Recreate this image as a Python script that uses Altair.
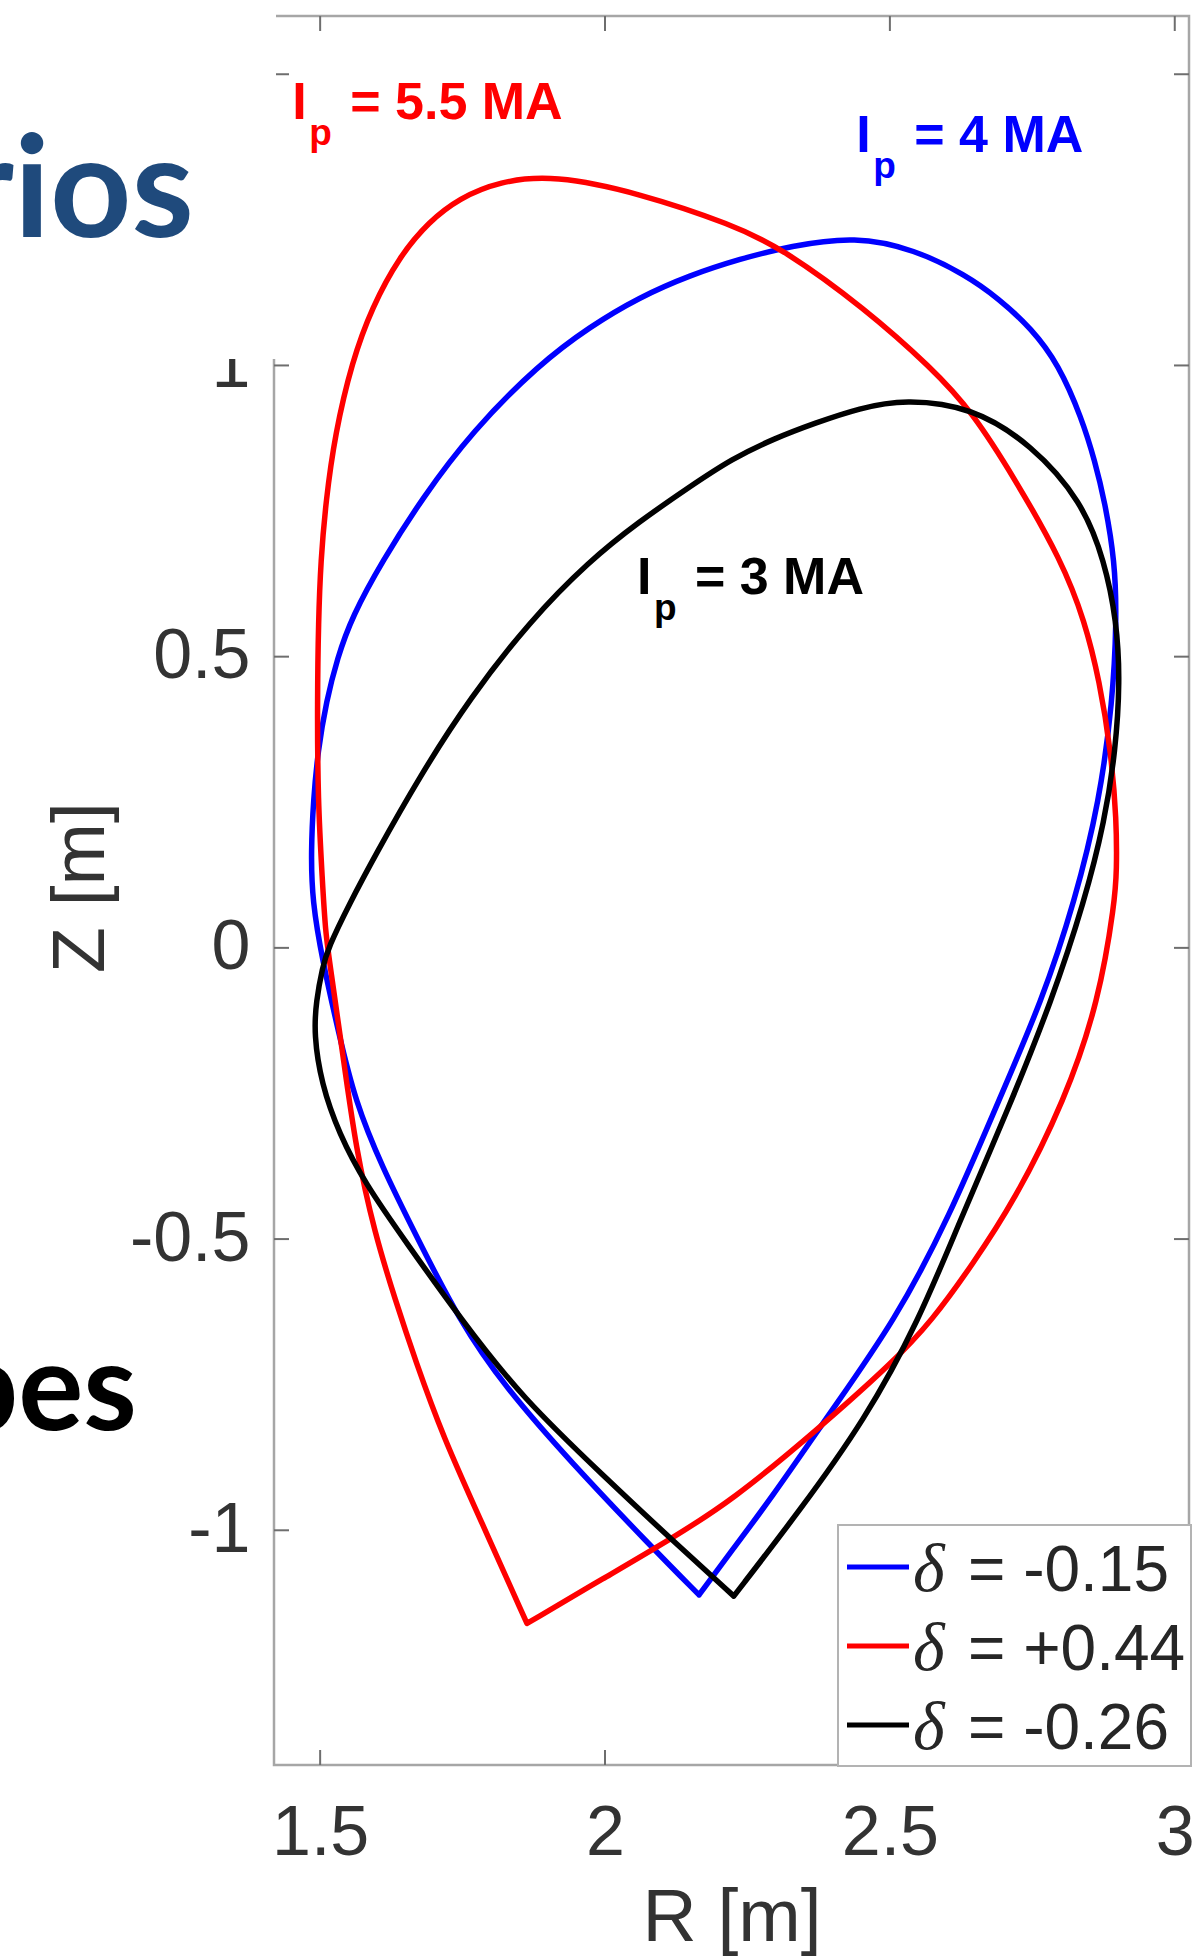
import altair as alt
import pandas as pd

# ---------------- data ----------------
delta_values = ["-0.15", "+0.44", "-0.26"]
ip_texts = ["= 4 MA", "= 5.5 MA", "= 3 MA"]
line_colors = ["#0000FF", "#FF0000", "#000000"]

# anchors of the I_p labels (R, Z of the left foot of "I")
label_R = [2.441, 1.451, 2.056]
label_Z = [1.367, 1.424, 0.607]

x_ticks = [1.5, 2, 2.5, 3]
y_ticks = [-1, -0.5, 0, 0.5, 1, 1.5]

# each boundary starts and ends at its X-point
blue_R = [2.165, 2.079, 1.942, 1.825, 1.744, 1.667, 1.609, 1.561, 1.533, 1.504,
          1.486, 1.484, 1.488, 1.496, 1.511, 1.530, 1.556, 1.609, 1.679, 1.767,
          1.884, 1.974, 2.060, 2.149, 2.237, 2.325, 2.439, 2.544, 2.632, 2.691,
          2.749, 2.796, 2.837, 2.860, 2.877, 2.895, 2.898, 2.891, 2.868, 2.825,
          2.767, 2.691, 2.604, 2.509, 2.398, 2.289, 2.216, 2.165]
blue_Z = [-1.111, -1.026, -0.885, -0.755, -0.640, -0.491, -0.377, -0.262, -0.148, -0.022,
          0.081, 0.166, 0.252, 0.338, 0.424, 0.497, 0.569, 0.664, 0.772, 0.887,
          1.002, 1.067, 1.117, 1.155, 1.183, 1.205, 1.222, 1.199, 1.156, 1.115,
          1.063, 1.002, 0.909, 0.835, 0.767, 0.664, 0.561, 0.424, 0.252, 0.081,
          -0.091, -0.262, -0.463, -0.640, -0.794, -0.949, -1.043, -1.111]

red_R = [1.863, 1.782, 1.716, 1.667, 1.632, 1.596, 1.563, 1.539, 1.518, 1.509,
         1.504, 1.496, 1.495, 1.497, 1.501, 1.510, 1.526, 1.556, 1.591, 1.639,
         1.691, 1.744, 1.814, 1.910, 2.060, 2.223, 2.311, 2.456, 2.574, 2.644,
         2.719, 2.802, 2.842, 2.868, 2.888, 2.898, 2.898, 2.895, 2.867, 2.807,
         2.719, 2.644, 2.574, 2.505, 2.372, 2.223, 2.112, 2.000, 1.863]
red_Z = [-1.160, -0.983, -0.840, -0.708, -0.605, -0.491, -0.348, -0.177, -0.034, 0.029,
         0.115, 0.252, 0.424, 0.561, 0.664, 0.767, 0.882, 1.007, 1.100, 1.187,
         1.247, 1.287, 1.316, 1.327, 1.296, 1.242, 1.201, 1.098, 0.995, 0.921,
         0.806, 0.664, 0.561, 0.458, 0.338, 0.218, 0.132, 0.081, -0.091, -0.262,
         -0.434, -0.545, -0.640, -0.712, -0.828, -0.949, -1.017, -1.081, -1.160]

black_R = [2.226, 2.118, 2.000, 1.854, 1.749, 1.649, 1.579, 1.533, 1.502, 1.489,
           1.493, 1.504, 1.514, 1.551, 1.596, 1.675, 1.763, 1.868, 1.972, 2.060,
           2.149, 2.223, 2.298, 2.368, 2.447, 2.526, 2.644, 2.749, 2.837, 2.877,
           2.898, 2.904, 2.896, 2.877, 2.842, 2.784, 2.709, 2.621, 2.551, 2.456,
           2.342, 2.226]
black_Z = [-1.113, -1.017, -0.909, -0.772, -0.640, -0.503, -0.405, -0.319, -0.233, -0.148,
           -0.091, -0.034, 0.000, 0.075, 0.158, 0.295, 0.429, 0.561, 0.664, 0.732,
           0.792, 0.840, 0.875, 0.901, 0.927, 0.942, 0.929, 0.864, 0.767, 0.664,
           0.561, 0.458, 0.338, 0.218, 0.081, -0.091, -0.274, -0.473, -0.640, -0.811,
           -0.966, -1.113]

# ---------------- layout ----------------
W, H = 915, 1749
R_DOM = [1.419, 3.025]
Z_DOM = [-1.403, 1.6]
TXT = "#333333"
TICK = "#6e6e6e"
FRAME = "#a6a6a6"

series = ["d" + str(i) for i in range(3)]
rows = []
for s, Rs, Zs in zip(series, [blue_R, red_R, black_R], [blue_Z, red_Z, black_Z]):
    for i, (r, z) in enumerate(zip(Rs, Zs)):
        rows.append({"series": s, "i": i, "R": r, "Z": z})
df = pd.DataFrame(rows)

xs = alt.Scale(domain=R_DOM, nice=False, zero=False)
ys = alt.Scale(domain=Z_DOM, nice=False, zero=False)

label_expr = "replace(format(datum.value, '~g'), '\u2212', '-')"
x_axis = alt.Axis(values=x_ticks, ticks=False, domain=False, grid=False,
                  labelExpr=label_expr, labelFont="Liberation Sans", labelFontSize=70,
                  labelColor=TXT, labelPadding=34, labelFlush=False,
                  title="R [m]", titleFont="Liberation Sans", titleFontSize=75,
                  titleFontWeight="normal", titleColor=TXT, titleY=175,
                  titleBaseline="alphabetic")
y_axis = alt.Axis(values=y_ticks, ticks=False, domain=False, grid=False,
                  labelExpr=label_expr, labelFont="Liberation Sans", labelFontSize=70,
                  labelColor=TXT, labelPadding=24, labelFlush=False,
                  title="Z [m]", titleFont="Liberation Sans", titleFontSize=75,
                  titleFontWeight="normal", titleColor=TXT, titleX=-171, titleY=871,
                  titleBaseline="alphabetic", titleAlign="center")
X = alt.X("R:Q", scale=xs, axis=x_axis)
Y = alt.Y("Z:Q", scale=ys, axis=y_axis)

curves = alt.Chart(df).mark_line(
    strokeWidth=5.5, interpolate="basis", strokeCap="round", strokeJoin="round"
).encode(
    x=X, y=Y,
    color=alt.Color("series:N", scale=alt.Scale(domain=series, range=line_colors), legend=None),
    order=alt.Order("i:Q"),
)

# inward ticks (MATLAB box style)
xt = pd.DataFrame({"R": x_ticks})
yt = pd.DataFrame({"Z": y_ticks})
tick_bottom = alt.Chart(xt).mark_rule(color=TICK, strokeWidth=2).encode(
    x=X, y=alt.value(H), y2=alt.value(H - 15))
tick_top = alt.Chart(xt).mark_rule(color=TICK, strokeWidth=2).encode(
    x=X, y=alt.value(0), y2=alt.value(15))
tick_left = alt.Chart(yt).mark_rule(color=TICK, strokeWidth=2).encode(
    y=Y, x=alt.value(0), x2=alt.value(15))
tick_right = alt.Chart(yt).mark_rule(color=TICK, strokeWidth=2).encode(
    y=Y, x=alt.value(W), x2=alt.value(W - 15))

# I_p annotations
ann = pd.DataFrame({"R": label_R, "Z": label_Z, "t": ip_texts, "c": line_colors})
ann_font = dict(font="Liberation Sans", fontWeight="bold", align="left", baseline="alphabetic")
ann_I = alt.Chart(ann).mark_text(fontSize=52, **ann_font).encode(
    x=X, y=Y, text=alt.value("I"), color=alt.Color("c:N", scale=None))
ann_p = alt.Chart(ann).mark_text(fontSize=37, dx=17, dy=26, **ann_font).encode(
    x=X, y=Y, text=alt.value("p"), color=alt.Color("c:N", scale=None))
ann_t = alt.Chart(ann).mark_text(fontSize=52, dx=58, **ann_font).encode(
    x=X, y=Y, text="t:N", color=alt.Color("c:N", scale=None))

one = pd.DataFrame({"a": [0]})

# white slide overlay hiding the upper left part of the axis
overlay = alt.Chart(one).mark_rect(color="white").encode(
    x=alt.value(-280), x2=alt.value(2), y=alt.value(-20), y2=alt.value(343))

# slide title fragments at the left edge (cut by the crop, as in the source)
frag1 = alt.Chart(one).mark_text(text="rios", font="Lato", fontWeight="bold", fontSize=142,
                                 color="#1F4A7C", align="right", baseline="alphabetic").encode(
    x=alt.value(-80), y=alt.value(221))
frag2 = alt.Chart(one).mark_text(text="pes", font="Lato", fontWeight="bold", fontSize=122,
                                 color="#000000", align="right", baseline="alphabetic").encode(
    x=alt.value(-137), y=alt.value(1414))

# legend box (bottom right, inside the axes)
legend_box = alt.Chart(one).mark_rect(fill="white", stroke="#b3b3b3", strokeWidth=2).encode(
    x=alt.value(564), x2=alt.value(917), y=alt.value(1509), y2=alt.value(1750))
legend_layers = [legend_box]
for k, (dv, col) in enumerate(zip(delta_values, line_colors)):
    yc = 1551 + 79 * k
    legend_layers.append(alt.Chart(one).mark_rule(color=col, strokeWidth=5).encode(
        x=alt.value(573), x2=alt.value(635), y=alt.value(yc)))
    legend_layers.append(alt.Chart(one).mark_text(
        text="\u03b4", font="Liberation Serif", fontStyle="italic", fontSize=68,
        color="#262626", align="left", baseline="alphabetic").encode(
        x=alt.value(639), y=alt.value(yc + 24)))
    legend_layers.append(alt.Chart(one).mark_text(
        text="= " + dv, font="Liberation Sans", fontSize=64,
        color="#262626", align="left", baseline="alphabetic").encode(
        x=alt.value(694), y=alt.value(yc + 24)))

chart = alt.layer(
    curves, tick_bottom, tick_top, tick_left, tick_right,
    ann_I, ann_p, ann_t, overlay, frag1, frag2, *legend_layers
).properties(
    width=W, height=H,
    autosize=alt.AutoSizeParams(type="none"),
    padding={"left": 274, "top": 16, "right": 15, "bottom": 194},
    background="white",
).configure_view(stroke=FRAME, strokeWidth=2.5)

chart.save("out.html", embed_options={"renderer": "svg", "actions": False})
